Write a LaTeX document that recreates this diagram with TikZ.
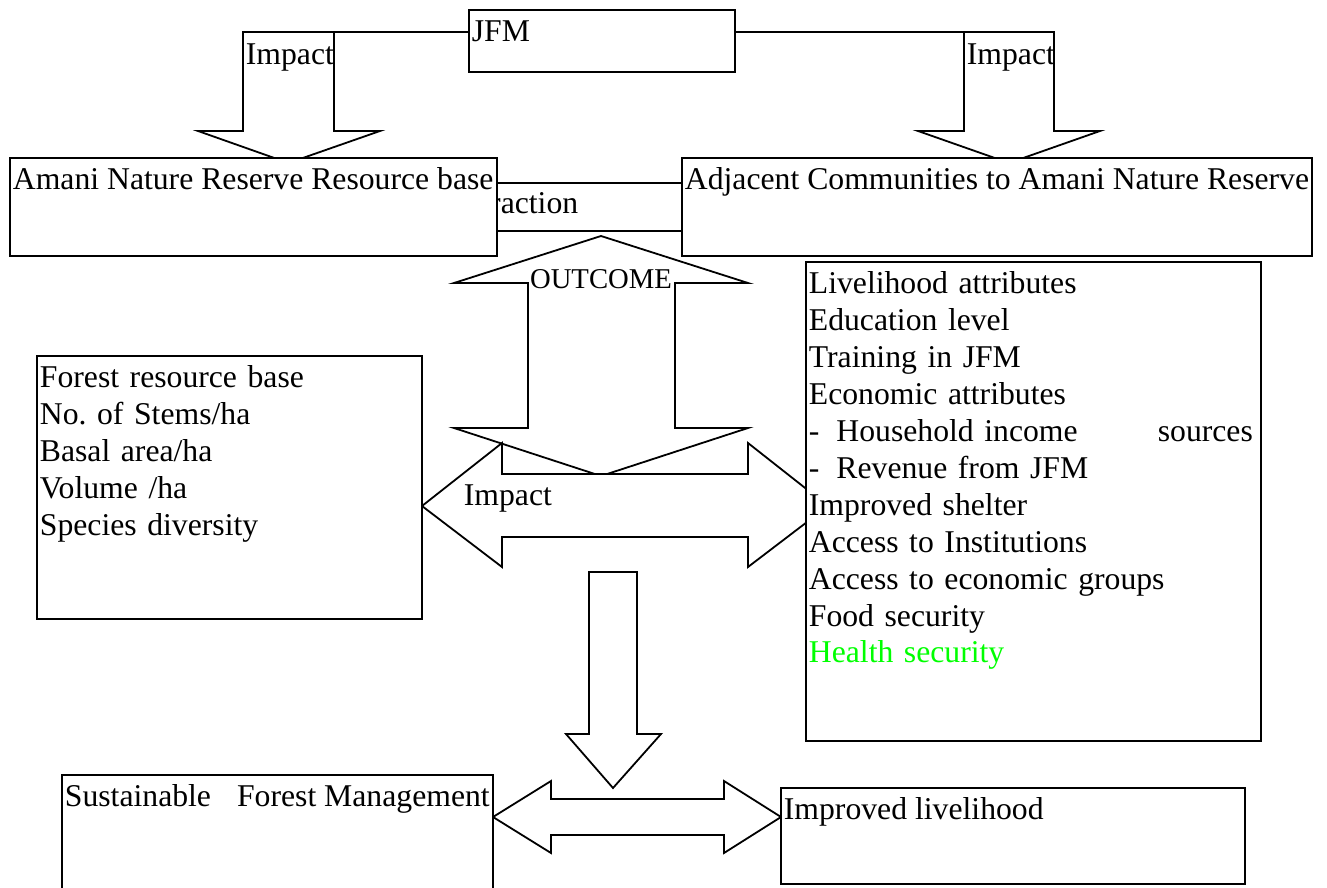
\documentclass[tikz,border=0pt]{standalone}
\usepackage{fontspec}
\setmainfont{Liberation Serif}
\usetikzlibrary{calc}
\newcommand{\mainfs}{\fontsize{31.7}{36.9}\selectfont\frenchspacing}
\newcommand{\outfs}{\fontsize{28.7}{33}\selectfont}
\newcommand{\tstrut}{\rule{0pt}{28.2pt}}
\definecolor{hgreen}{RGB}{0,255,0}
\begin{document}
\begin{tikzpicture}[x=1pt,y=-1pt, line width=1.8pt, line join=miter,
  box/.style={draw, fill=white, inner sep=0pt, outer sep=0pt, anchor=north west},
  txt/.style={inner sep=0pt, anchor=north west, align=left, font=\mainfs},
  blk/.style={draw, fill=white, line join=miter},
  lbl/.style={inner sep=0pt, anchor=base west, font=\mainfs}]
\clip (0,0) rectangle (1327,888);
\fill[white] (0,0) rectangle (1327,888);

% interaction label (left part hidden behind the resource-base box)
\begin{scope}
  \clip (497,170) rectangle (682,240);
  \node[lbl] (inter) at (440,213) {Interaction};
\end{scope}
\coordinate (iy1) at (0,183);
\coordinate (iy2) at (0,231);

% top impact arrows
\coordinate (la) at (243,32);
\coordinate (ra) at (1054,32);
\draw[blk] (243,32) -- (334,32) -- (334,131) -- (380,131) -- (288.5,163) -- (198,131) -- (243,131) -- cycle;
\draw[blk] (964,32) -- (1054,32) -- (1054,131) -- (1100,131) -- (1009,163) -- (918,131) -- (964,131) -- cycle;
\node[lbl] (imp1) at (245,65) {Impact};
\node[lbl] (imp2) at (966,65) {Impact};

% JFM
\node[box, minimum width=266pt, minimum height=62pt] (jfm) at (469,10) {};
\node[txt] (jfmt) at ($(jfm.north west)+(2,2.8)$) {\tstrut JFM};
\draw (jfm.west |- la) -- (la);
\draw (jfm.east |- ra) -- (ra);

% resource base and communities
\node[box, minimum width=487pt, minimum height=98pt] (anr) at (10,158) {};
\node[txt] (anrt) at ($(anr.north west)+(2,2.8)$) {\tstrut Amani Nature Reserve Resource base};
\node[box, minimum width=630pt, minimum height=98pt] (adj) at (682,158) {};
\node[txt] (adjt) at ($(adj.north west)+(2,2.8)$) {\tstrut Adjacent Communities to Amani Nature Reserve};
\draw (anr.east |- iy1) -- (adj.west |- iy1);
\draw (anr.east |- iy2) -- (adj.west |- iy2);

% OUTCOME double arrow
\draw[blk] (601,236) -- (748,283) -- (675,283) -- (675,428) -- (748,428) -- (601,476)
  -- (454,428) -- (528,428) -- (528,283) -- (454,283) -- cycle;
\node[inner sep=0pt, anchor=base, font=\outfs] (outc) at (601,288) {OUTCOME};

% Impact horizontal double arrow
\draw[blk] (422,506) -- (502,443) -- (502,474) -- (748,474) -- (748,443) -- (828,506)
  -- (748,567) -- (748,537) -- (502,537) -- (502,567) -- cycle;
\node[lbl] (imp3) at (463,505) {Impact};

% forest box
\node[box, minimum width=385pt, minimum height=263pt] (forest) at (37,356) {};
\node[txt, text width=380pt] (forestt) at ($(forest.north west)+(2,2.8)$)
  {\tstrut Forest resource base\\No. of Stems/ha\\Basal area/ha\\Volume /ha\\Species diversity};

% livelihood box
\node[box, minimum width=455pt, minimum height=479pt] (liv) at (806,262) {};
\node[txt, text width=444pt] (livt) at ($(liv.north west)+(2,2.8)$)
  {\tstrut Livelihood attributes\\Education level\\Training in JFM\\Economic attributes\\
   -\hspace{17pt}Household income\hfill sources\\
   -\hspace{17pt}Revenue from JFM\\Improved shelter\\Access to Institutions\\
   Access to economic groups\\Food security\\\textcolor{hgreen}{Health security}};

% down arrow and bottom double arrow
\draw[blk] (589,572) -- (637,572) -- (637,734) -- (661,734) -- (613,788) -- (566,734) -- (589,734) -- cycle;
\draw[blk] (493,817) -- (551,781) -- (551,799) -- (724,799) -- (724,781) -- (781,817)
  -- (724,853) -- (724,835) -- (551,835) -- (551,853) -- cycle;

% bottom boxes
\node[box, minimum width=431pt, minimum height=120pt] (sfm) at (62,775) {};
\node[txt] (sfmt) at ($(sfm.north west)+(2,2.8)$) {\tstrut Sustainable\hspace{26pt}Forest Management};
\node[box, minimum width=464pt, minimum height=96pt] (il) at (781,788) {};
\node[txt] (ilt) at ($(il.north west)+(2,2.8)$) {\tstrut Improved livelihood};
\end{tikzpicture}
\end{document}
